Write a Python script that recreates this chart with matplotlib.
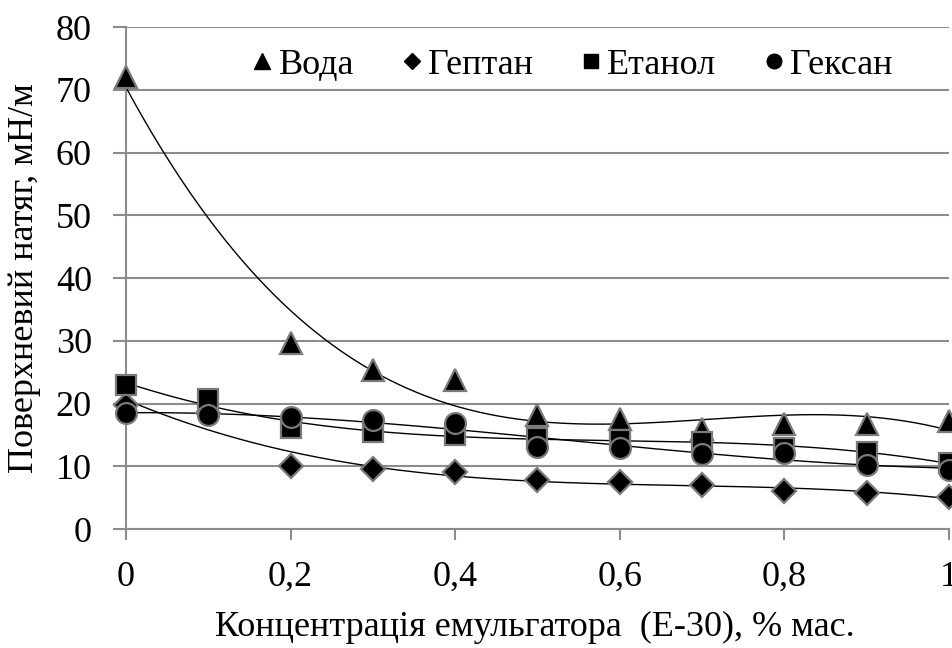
import numpy as np
import matplotlib.pyplot as plt

plt.rcParams["font.family"] = ["Liberation Serif", "DejaVu Serif"]
plt.rcParams["font.size"] = 26

# concentration of emulsifier, % mass
conc = [0, 0.1, 0.2, 0.3, 0.4, 0.5, 0.6, 0.7, 0.8, 0.9, 1.0]
conc_water = [0, 0.2, 0.3, 0.4, 0.5, 0.6, 0.7, 0.8, 0.9, 1.0]

water = [72, 29.6, 25.3, 23.7, 18.2, 17.5, 16.0, 16.8, 16.8, 17.2]
heptane = [19.8, 18.5, 10.0, 9.5, 9.1, 7.8, 7.5, 7.0, 6.1, 5.7, 5.1]
ethanol = [23.0, 20.8, 16.1, 15.5, 15.0, 14.5, 14.2, 13.9, 12.9, 12.3, 10.5]
hexane = [18.5, 18.2, 17.9, 17.4, 16.9, 13.1, 12.9, 12.0, 12.1, 10.2, 9.4]

series = [
    ("Вода", conc_water, water, "^", 16, 3),
    ("Гептан", conc, heptane, "D", 12, 3),
    ("Етанол", conc, ethanol, "s", 14, 3),
    ("Гексан", conc, hexane, "o", 15, 3),
]

fig = plt.figure(figsize=(9.53, 6.48), dpi=100)
ax = fig.add_axes([0.1322, 0.1836, 0.8636, 0.7747])

grid_c = "#8c8c8c"
for name, x, y, m, ms, deg in series:
    # polynomial trend line through the points
    c = np.polyfit(x, y, deg)
    xs = np.linspace(0, 1, 200)
    ax.plot(xs, np.polyval(c, xs), color="black", lw=1.0, zorder=3)
    ax.plot(x, y, ls="none", marker=m, ms=ms, mfc="black", mec="#7a7a7a",
            mew=1.6, clip_on=False, zorder=4)

# legend entries
handles = [plt.Line2D([], [], ls="none", marker=m, ms=ms * 0.7, mfc="black",
                      mec="black") for _, _, _, m, ms, _ in series]
ax.legend(handles, [s[0] for s in series], loc="center", ncol=4,
          frameon=False, bbox_to_anchor=(0.54, 0.924), handletextpad=0.05,
          columnspacing=1.2, handlelength=0.8, borderpad=0)

ax.set_xlim(0, 1)
ax.set_ylim(0, 80)
ax.set_xticks([0, 0.2, 0.4, 0.6, 0.8, 1.0])
ax.set_xticklabels(["0", "0,2", "0,4", "0,6", "0,8", "1"])
ax.set_yticks(range(0, 81, 10))
ax.yaxis.grid(True, color=grid_c, lw=1.5)
ax.set_axisbelow(True)
for s in ["top", "right"]:
    ax.spines[s].set_visible(False)
for s in ["left", "bottom"]:
    ax.spines[s].set_color(grid_c)
    ax.spines[s].set_linewidth(1.5)
ax.tick_params(axis="x", color=grid_c, width=1.5, length=8, pad=15)
ax.tick_params(axis="y", color=grid_c, width=1.5, length=9.5, pad=15)

ax.set_xlabel("Концентрація емульгатора  (Е-30), % мас.", va="center")
ax.xaxis.set_label_coords(0.497, -0.197)
ax.set_ylabel("Поверхневий натяг, мН/м", va="center")
ax.yaxis.set_label_coords(-0.123, 0.5)

fig.savefig("out.png", dpi=100)
